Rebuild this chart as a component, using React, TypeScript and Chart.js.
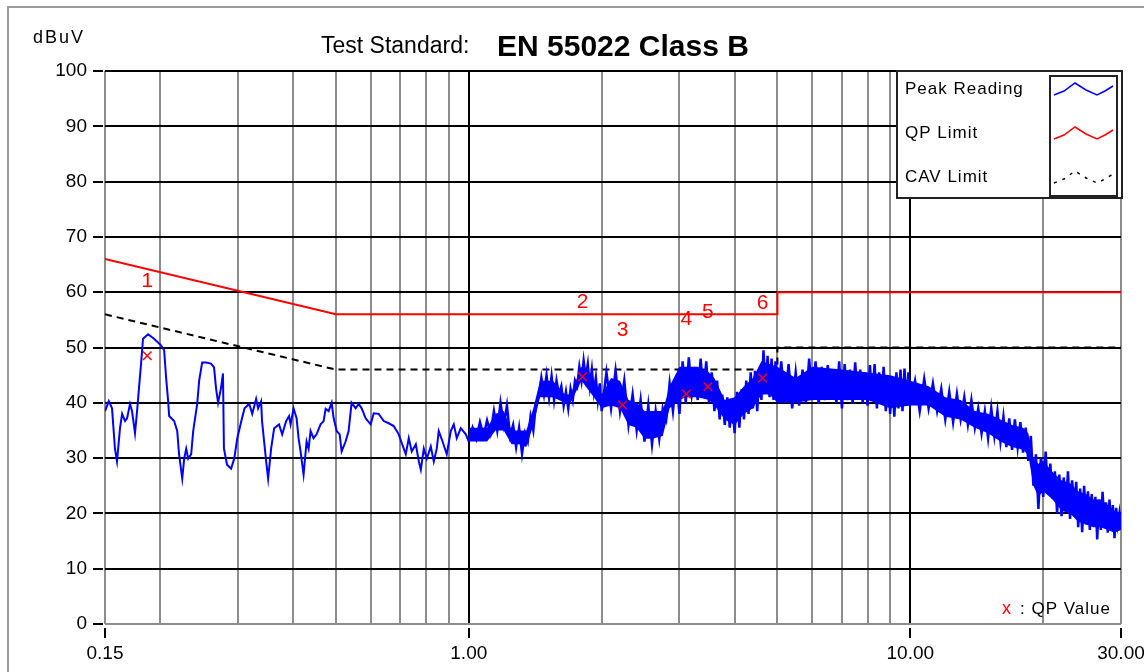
import React, { useEffect, useRef } from "react";
import { Chart, registerables } from "chart.js";

Chart.register(...registerables);

// ---- Peak reading (MHz, dBuV) ----
const leftFreq = [0.150, 0.153, 0.1556, 0.158, 0.1597, 0.1622, 0.164, 0.1665, 0.1683, 0.1709, 0.1727, 0.1754, 0.1773, 0.1791, 0.181, 0.1829, 0.1878, 0.1937, 0.2009, 0.2042, 0.2063, 0.2085, 0.2096, 0.2151, 0.2186, 0.2207, 0.2244, 0.2267, 0.2291, 0.2315, 0.2351, 0.2376, 0.2426, 0.2451, 0.249, 0.2541, 0.2607, 0.2649, 0.2676, 0.2705, 0.2747, 0.2775, 0.2789, 0.2835, 0.2895, 0.2943, 0.299, 0.3054, 0.3105, 0.3182, 0.3233, 0.3299, 0.3333, 0.3386, 0.3402, 0.3476, 0.3512, 0.3567, 0.3624, 0.3717, 0.3779, 0.3858, 0.3917];
const leftLevel = [38.5, 40.3, 39.0, 31.7, 29.4, 35.4, 38.0, 36.7, 37.2, 39.8, 38.5, 34.5, 38.5, 42.7, 47.0, 51.6, 52.4, 51.6, 50.4, 49.5, 44.5, 40.3, 37.6, 36.7, 34.9, 30.7, 26.3, 29.9, 31.7, 29.9, 30.7, 34.9, 39.8, 44.0, 47.3, 47.3, 47.1, 46.4, 42.7, 40.0, 42.7, 45.3, 31.7, 28.8, 28.1, 29.9, 33.6, 36.7, 39.0, 39.8, 38.0, 40.7, 39.0, 40.3, 36.7, 29.4, 26.3, 31.7, 35.4, 36.1, 34.3, 36.7, 37.6];

const midFreq = [0.3948, 0.401, 0.4074, 0.4116, 0.4159, 0.4225, 0.4292, 0.4337, 0.4382, 0.4451, 0.4521, 0.4617, 0.469, 0.474, 0.4815, 0.4891, 0.4943, 0.5021, 0.51, 0.5152, 0.526, 0.5343, 0.5428, 0.5543, 0.5631, 0.572, 0.584, 0.5995, 0.609, 0.6251, 0.6417, 0.6587, 0.6761, 0.694, 0.705, 0.7199, 0.7312, 0.7428, 0.7586, 0.7706, 0.7787, 0.7909, 0.8034, 0.8202, 0.8332, 0.8461, 0.855, 0.8687, 0.8914, 0.9103, 0.9247, 0.9393, 0.9591, 0.9845];
const midLevel = [36.1, 39.0, 37.2, 33.6, 31.2, 27.0, 33.0, 31.7, 34.9, 33.6, 34.3, 36.1, 36.7, 38.9, 38.5, 40.0, 37.2, 34.9, 34.3, 31.2, 33.0, 34.9, 40.0, 39.0, 39.8, 39.0, 37.2, 36.1, 38.1, 38.0, 36.7, 36.3, 35.8, 34.3, 32.7, 30.7, 33.6, 31.2, 32.5, 29.4, 27.9, 31.7, 29.9, 32.1, 29.4, 31.7, 34.9, 33.4, 30.7, 34.9, 36.1, 33.6, 35.4, 34.3];

const bandFreqA = [1.00, 1.02, 1.04, 1.06, 1.08, 1.10, 1.12, 1.14, 1.16, 1.18, 1.20, 1.22, 1.24, 1.26, 1.28, 1.30, 1.32, 1.34, 1.36, 1.38, 1.40, 1.42, 1.44, 1.46, 1.48, 1.50, 1.52, 1.54, 1.56, 1.58, 1.60, 1.62, 1.64, 1.66, 1.68, 1.70, 1.72, 1.74, 1.76, 1.78, 1.80, 1.82, 1.84, 1.86, 1.88, 1.90, 1.92, 1.94, 1.96, 1.98, 2.00];
const bandLevelA = [33.0, 35.5, 33.5, 36.5, 34.0, 36.8, 34.5, 38.5, 35.0, 40.0, 36.0, 39.5, 34.0, 36.0, 32.0, 35.5, 30.8, 34.5, 33.0, 37.5, 35.0, 40.0, 41.0, 44.5, 41.5, 45.0, 41.0, 44.8, 40.5, 44.0, 41.5, 43.0, 39.5, 42.0, 39.0, 42.5, 40.5, 44.0, 43.0, 46.5, 44.0, 47.6, 44.5, 47.0, 43.0, 46.0, 42.0, 44.5, 40.5, 43.5, 38.5];

const bandFreqB = [2.05, 2.1, 2.15, 2.2, 2.25, 2.3, 2.35, 2.4, 2.45, 2.5, 2.55, 2.6, 2.65, 2.7, 2.75, 2.8, 2.85, 2.9, 2.95, 3.0, 3.05, 3.1, 3.15, 3.2, 3.25, 3.3, 3.35, 3.4, 3.45, 3.5, 3.55, 3.6, 3.65, 3.7, 3.75, 3.8, 3.85, 3.9, 3.95, 4.0, 4.05, 4.1, 4.15, 4.2, 4.25, 4.3, 4.35, 4.4, 4.45, 4.5, 4.55, 4.6, 4.65, 4.7, 4.75, 4.8, 4.85, 4.9, 4.95, 5.0];
const bandLevelB = [45.5, 39.0, 45.8, 38.5, 44.0, 36.0, 41.5, 35.0, 40.5, 33.0, 39.5, 32.5, 38.5, 33.5, 39.0, 37.0, 43.5, 38.5, 44.5, 38.0, 47.5, 40.0, 48.2, 41.5, 45.0, 40.5, 48.0, 41.5, 47.5, 40.0, 45.5, 38.5, 44.0, 37.0, 41.5, 36.0, 41.0, 35.5, 40.5, 34.5, 42.0, 35.5, 42.5, 37.0, 44.0, 38.0, 45.5, 39.0, 45.8, 38.5, 46.0, 40.5, 49.5, 42.0, 48.5, 41.0, 48.0, 40.5, 47.5, 40.0];

const bandFreqC = [5.1, 5.2, 5.3, 5.4, 5.5, 5.6, 5.7, 5.8, 5.9, 6.0, 6.1, 6.2, 6.3, 6.4, 6.5, 6.6, 6.7, 6.8, 6.9, 7.0, 7.1, 7.2, 7.3, 7.4, 7.5, 7.6, 7.7, 7.8, 7.9, 8.0, 8.1, 8.2, 8.3, 8.4, 8.5, 8.6, 8.7, 8.8, 8.9, 9.0, 9.1, 9.2, 9.3, 9.4, 9.5, 9.6, 9.7, 9.8, 9.9, 10.0];
const bandLevelC = [47.5, 40.0, 47.0, 39.0, 45.5, 39.5, 46.0, 40.0, 48.0, 40.5, 47.5, 39.8, 46.5, 40.5, 46.8, 41.0, 46.0, 40.0, 47.5, 39.0, 47.0, 40.5, 46.0, 39.8, 47.3, 41.0, 46.0, 40.0, 45.5, 39.5, 46.8, 40.5, 47.0, 39.0, 45.5, 40.0, 46.5, 38.5, 45.0, 38.0, 44.5, 37.5, 45.5, 39.0, 46.0, 38.5, 46.2, 39.5, 45.5, 40.0];

const bandFreqD = [10.25, 10.5, 10.75, 11.0, 11.25, 11.5, 11.75, 12.0, 12.25, 12.5, 12.75, 13.0, 13.25, 13.5, 13.75, 14.0, 14.25, 14.5, 14.75, 15.0, 15.25, 15.5, 15.75, 16.0, 16.25, 16.5, 16.75, 17.0, 17.25, 17.5, 17.75, 18.0, 18.25, 18.5, 18.75, 19.0, 19.25, 19.5, 19.75, 20.0, 20.25, 20.5, 20.75, 21.0, 21.25, 21.5, 21.75, 22.0, 22.25, 22.5, 22.75, 23.0, 23.25, 23.5, 23.75, 24.0, 24.25, 24.5, 24.75, 25.0, 25.25, 25.5, 25.75, 26.0, 26.25, 26.5, 26.75, 27.0, 27.25, 27.5, 27.75, 28.0, 28.25, 28.5, 28.75, 29.0, 29.25, 29.5, 29.75, 30.0];
const bandLevelD = [44.0, 38.5, 44.3, 39.0, 43.5, 38.5, 42.5, 37.0, 42.0, 36.5, 41.6, 37.0, 41.0, 36.1, 40.5, 35.5, 39.0, 34.5, 38.5, 33.6, 39.0, 34.0, 38.5, 33.0, 37.5, 32.0, 37.2, 31.5, 37.0, 32.0, 36.5, 31.0, 35.5, 29.5, 34.0, 25.0, 30.7, 20.8, 30.0, 23.0, 31.2, 23.5, 29.0, 22.6, 27.6, 20.0, 27.0, 19.5, 26.5, 21.0, 27.6, 19.0, 26.0, 20.5, 25.7, 17.5, 24.5, 16.6, 25.0, 18.0, 24.0, 17.0, 23.5, 18.5, 23.0, 15.3, 22.5, 17.0, 23.9, 18.0, 22.0, 16.5, 22.5, 17.5, 21.5, 15.5, 21.0, 18.0, 20.0, 17.0];

// dense core of the peak trace above 1 MHz (inner upper / lower edges of the blue band)
const bandEnvFreq = [1.0, 1.1, 1.15, 1.2, 1.25, 1.3, 1.35, 1.4, 1.45, 1.55, 1.65, 1.7, 1.8, 1.9, 2.0, 2.1, 2.2, 2.3, 2.4, 2.5, 2.6, 2.75, 2.85, 3.0, 3.1, 3.3, 3.5, 3.6, 3.8, 4.0, 4.2, 4.4, 4.6, 4.8, 5.0, 5.5, 6, 7, 8, 9, 10, 11, 12, 13, 14, 15, 16, 17, 18, 18.5, 19, 19.5, 20, 21, 22, 23, 24, 25, 26, 27, 28, 29, 30];
const bandEnvTop = [35.5, 35.5, 38, 38.5, 35, 35, 35, 39, 44, 44, 41.5, 41.5, 46.5, 44.5, 41.5, 44.5, 44, 40.5, 40, 38.5, 38.5, 38.5, 43, 46.5, 46.5, 46.5, 45.5, 44.5, 40.5, 41, 43, 44.5, 47.5, 47, 46.5, 44.5, 46.5, 46, 45.5, 45, 44, 43, 41, 40.5, 38.5, 38, 37, 36, 35.5, 34.5, 30, 29, 29.5, 27.5, 26, 25.5, 24, 23.5, 22.5, 22.5, 21.5, 20.5, 20];
const bandEnvLow = [33, 33, 35, 35, 32.5, 32.5, 32, 36, 41, 41, 40, 40, 44, 41.5, 39, 39.5, 39, 36, 35.5, 33.5, 33.5, 34, 39, 40.5, 41, 41, 40.5, 39.5, 37, 36, 38, 39, 41.5, 41.5, 40, 40, 40.5, 40.5, 40.5, 39, 39.5, 39.5, 37.5, 37, 35.5, 34.5, 33, 32, 31.5, 30.5, 25, 23, 24, 22.5, 20.5, 20, 18.5, 18, 17.5, 17.5, 17, 16.5, 17];

// ---- Limits ----
const qpLimitFreq = [0.15, 0.5, 5, 5, 30];
const qpLimitLevel = [66, 56, 56, 60, 60];
const cavLimitFreq = [0.15, 0.5, 5, 5, 30];
const cavLimitLevel = [56, 46, 46, 50, 50];

// ---- QP values ----
const qpLabels = ["1", "2", "3", "4", "5", "6"];
const qpFreq = [0.187, 1.81, 2.23, 3.11, 3.48, 4.63];
const qpLevel = [48.5, 44.7, 39.6, 41.6, 42.9, 44.5];

// ---- Axes ----
const xGridValues = [0.15, 0.2, 0.3, 0.4, 0.5, 0.6, 0.7, 0.8, 0.9, 1, 2, 3, 4, 5, 6, 7, 8, 9, 10, 20, 30];
const xLabelValues = [0.15, 1, 10, 30];
const xLabelTexts = ["0.15", "1.00", "10.00", "30.00"];
const xMajorValues = [1, 10];

const legendNames = ["Peak Reading", "QP Limit", "CAV Limit"];

const pts = (f: number[], v: number[]) => f.map((x, i) => ({ x, y: v[i] }));
const same = (a: number, b: number) => Math.abs(a - b) < 1e-6;

const FONT = "'Liberation Sans', Arial, sans-serif";
const BLUE = "#0000ff";

export default function App() {
  const ref = useRef<HTMLCanvasElement>(null);

  useEffect(() => {
    document.body.style.margin = "0";
    const canvas = ref.current;
    if (!canvas) return;

    const overlay = {
      id: "overlay",
      afterDraw(chart: any) {
        const ctx = chart.ctx as CanvasRenderingContext2D;
        const xs = chart.scales.x;
        const ys = chart.scales.y;
        ctx.save();

        // outer frame
        ctx.strokeStyle = "#9a9a9a";
        ctx.lineWidth = 2;
        ctx.beginPath();
        ctx.moveTo(8, 672);
        ctx.lineTo(8, 7);
        ctx.lineTo(1144, 7);
        ctx.stroke();

        // titles
        ctx.fillStyle = "#000";
        ctx.textBaseline = "alphabetic";
        ctx.textAlign = "left";
        (ctx as any).letterSpacing = "2px";
        ctx.font = `18px ${FONT}`;
        ctx.fillText("dBuV", 33, 43);
        (ctx as any).letterSpacing = "0px";
        ctx.font = `23px ${FONT}`;
        ctx.fillText("Test Standard:", 321, 53);
        ctx.font = `bold 30px ${FONT}`;
        ctx.fillText("EN 55022 Class B", 497, 56);

        // y tick dashes
        ctx.fillStyle = "#000";
        for (let v = 0; v <= 100; v += 10) {
          const y = Math.round(ys.getPixelForValue(v));
          ctx.fillRect(93, y - 1, 10, 2);
        }
        // x tick marks
        xLabelValues.forEach((v) => {
          const x = Math.round(xs.getPixelForValue(v));
          ctx.fillRect(x - 1, 628, 2, 10);
        });

        // QP number labels
        ctx.fillStyle = "#ff0000";
        ctx.font = `21px ${FONT}`;
        ctx.textAlign = "center";
        ctx.textBaseline = "middle";
        qpLabels.forEach((t, i) => {
          const x = xs.getPixelForValue(qpFreq[i]);
          const y = ys.getPixelForValue(qpLevel[i]) - 75;
          ctx.fillText(t, x, y);
        });

        // legend box
        ctx.fillStyle = "#fff";
        ctx.fillRect(896, 71, 226, 127);
        ctx.strokeStyle = "#222";
        ctx.lineWidth = 2;
        ctx.strokeRect(897, 71, 225, 127);
        ctx.strokeRect(1050, 76, 67, 120);

        ctx.fillStyle = "#000";
        ctx.textAlign = "left";
        ctx.textBaseline = "alphabetic";
        ctx.font = `17px ${FONT}`;
        (ctx as any).letterSpacing = "1px";
        const ly = [94, 138, 182];
        legendNames.forEach((n, i) => ctx.fillText(n, 905, ly[i]));

        // legend samples
        const sample = (color: string, y0: number, dash: number[]) => {
          ctx.strokeStyle = color;
          ctx.lineWidth = 1.5;
          ctx.setLineDash(dash);
          ctx.beginPath();
          ctx.moveTo(1054, y0 + 6);
          ctx.lineTo(1064, y0 + 2);
          ctx.lineTo(1075, y0 - 6);
          ctx.lineTo(1086, y0 + 1);
          ctx.lineTo(1097, y0 + 6);
          ctx.lineTo(1105, y0 + 2);
          ctx.lineTo(1113, y0 - 3);
          ctx.stroke();
          ctx.setLineDash([]);
        };
        sample(BLUE, 89, []);
        sample("#ff0000", 133, []);
        sample("#000000", 177, [3, 6]);

        // QP value key
        ctx.fillStyle = "#ff0000";
        ctx.font = `18px ${FONT}`;
        (ctx as any).letterSpacing = "0px";
        ctx.fillText("x", 1002, 614);
        ctx.fillStyle = "#000";
        ctx.font = `17px ${FONT}`;
        (ctx as any).letterSpacing = "1px";
        ctx.fillText(": QP Value", 1020, 614);
        (ctx as any).letterSpacing = "0px";

        ctx.restore();
      },
    };

    const lowData = [...pts(leftFreq, leftLevel), ...pts(midFreq, midLevel), { x: bandFreqA[0], y: bandLevelA[0] }];
    const bandData = [
      ...pts(bandFreqA, bandLevelA),
      ...pts(bandFreqB, bandLevelB),
      ...pts(bandFreqC, bandLevelC),
      ...pts(bandFreqD, bandLevelD),
    ];

    const chart = new Chart(canvas, {
      type: "line",
      data: {
        datasets: [
          {
            label: "QP Value",
            data: pts(qpFreq, qpLevel),
            showLine: false,
            pointStyle: "crossRot",
            pointRadius: 6,
            pointBorderWidth: 1.5,
            borderColor: "#ff0000",
            pointBorderColor: "#ff0000",
            order: 0,
          } as any,
          {
            label: legendNames[0],
            data: lowData,
            borderColor: BLUE,
            borderWidth: 2,
            pointRadius: 0,
            order: 1,
          },
          {
            label: legendNames[0],
            data: bandData,
            borderColor: BLUE,
            borderWidth: 2.5,
            pointRadius: 0,
            order: 2,
          },
          {
            label: legendNames[0] + " core",
            data: pts(bandEnvFreq, bandEnvTop),
            borderColor: "rgba(0,0,0,0)",
            backgroundColor: BLUE,
            borderWidth: 1,
            pointRadius: 0,
            fill: 4,
            order: 3,
          },
          {
            label: legendNames[0] + " floor",
            data: pts(bandEnvFreq, bandEnvLow),
            borderColor: "rgba(0,0,0,0)",
            borderWidth: 1,
            pointRadius: 0,
            fill: false,
            order: 4,
          },
          {
            label: legendNames[1],
            data: pts(qpLimitFreq, qpLimitLevel),
            borderColor: "#ff0000",
            borderWidth: 2,
            pointRadius: 0,
            order: 5,
          },
          {
            label: legendNames[2],
            data: pts(cavLimitFreq, cavLimitLevel),
            borderColor: "#000000",
            borderWidth: 2,
            borderDash: [7, 5],
            pointRadius: 0,
            order: 6,
          },
        ],
      },
      options: {
        responsive: false,
        animation: false,
        devicePixelRatio: 1,
        events: [],
        layout: { padding: { top: 71, right: 23, left: 0, bottom: 0 } },
        plugins: {
          legend: { display: false },
          tooltip: { enabled: false },
          title: { display: false },
          filler: { propagate: false },
        },
        scales: {
          x: {
            type: "logarithmic",
            min: 0.15,
            max: 30,
            afterBuildTicks: (s: any) => {
              s.ticks = xGridValues.map((v) => ({ value: v }));
            },
            afterFit: (s: any) => {
              s.height = 48;
              s.paddingLeft = 0;
              s.paddingRight = 0;
            },
            ticks: {
              autoSkip: false,
              maxRotation: 0,
              minRotation: 0,
              padding: 18,
              color: "#000",
              font: { family: FONT, size: 19 },
              callback: (v: any) => {
                const i = xLabelValues.findIndex((x) => same(x, Number(v)));
                return i >= 0 ? xLabelTexts[i] : "";
              },
            },
            grid: {
              drawTicks: false,
              lineWidth: 2,
              color: (c: any) =>
                c.tick && xMajorValues.some((m) => same(m, c.tick.value)) ? "#000000" : "#8c8c8c",
            },
            border: { display: false },
          },
          y: {
            min: 0,
            max: 100,
            afterFit: (s: any) => {
              s.width = 105;
              s.paddingTop = 0;
              s.paddingBottom = 0;
            },
            ticks: {
              stepSize: 10,
              padding: 18,
              color: "#000",
              font: { family: FONT, size: 19 },
            },
            grid: {
              drawTicks: false,
              lineWidth: 2,
              color: (c: any) => (c.tick && c.tick.value === 0 ? "#8c8c8c" : "#000000"),
            },
            border: { display: false },
          },
        },
      } as any,
      plugins: [overlay],
    });

    return () => chart.destroy();
  }, []);

  return <canvas ref={ref} width={1144} height={672} style={{ display: "block" }} />;
}
